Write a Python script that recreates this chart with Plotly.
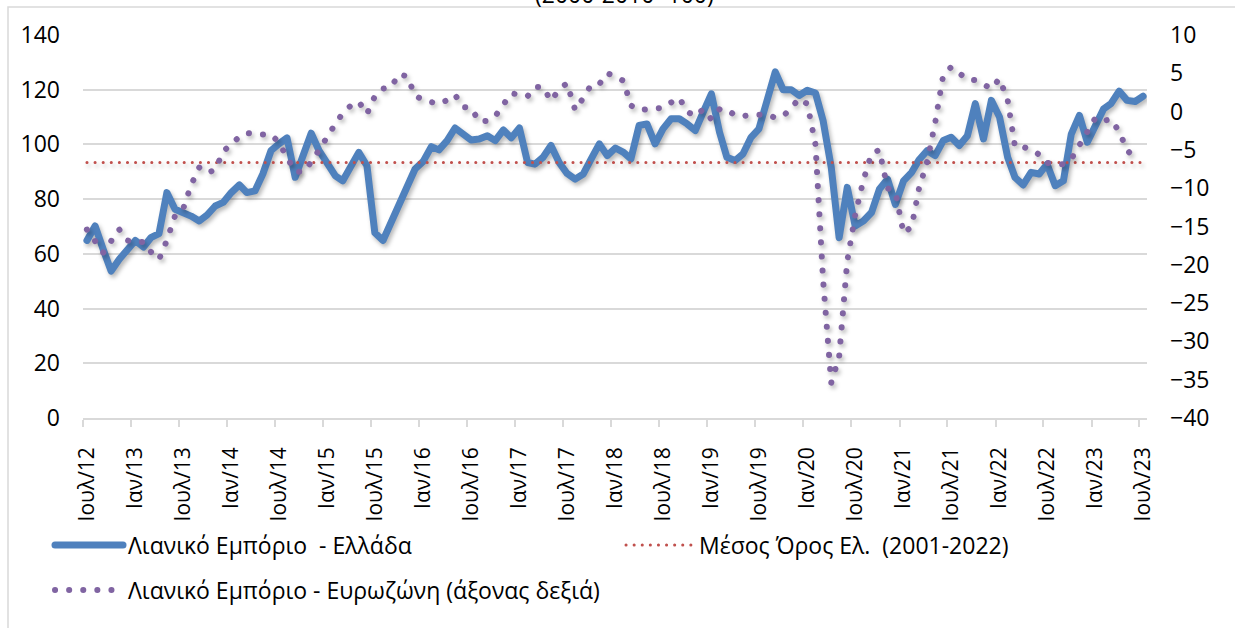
import pandas as pd
import plotly.graph_objects as go

# ---------------- data ----------------
start_month = "2012-07-01"
n_months = 133
months = pd.date_range(start_month, periods=n_months, freq="MS")

greece_retail = [
    64.9, 70.2, 61.6, 53.7, 58.0, 61.6, 64.9, 62.5, 65.9, 67.4,
    82.4, 76.3, 75.4, 73.8, 72.0, 74.2, 77.5, 78.8, 82.4, 85.2,
    82.4, 83.0, 89.2, 97.7, 100.2, 102.4, 88.0, 96.5, 104.1, 97.7,
    92.8, 88.5, 86.7, 91.6, 97.1, 92.2, 67.7, 64.9, 71.4, 78.1,
    84.9, 91.0, 93.8, 99.2, 98.0, 101.4, 106.0, 103.8, 101.6, 102.0,
    103.2, 101.4, 105.3, 102.4, 106.0, 93.4, 92.8, 95.3, 99.6, 93.4,
    89.4, 87.3, 89.2, 94.7, 100.2, 95.9, 98.7, 97.1, 94.7, 106.9,
    107.5, 100.2, 105.7, 109.4, 109.4, 107.5, 105.1, 111.8, 118.5, 104.5,
    95.3, 94.1, 96.5, 102.6, 105.7, 116.1, 126.5, 120.0, 120.0, 117.9,
    119.8, 118.8, 108.7, 91.6, 65.9, 84.3, 70.2, 72.0, 75.1, 83.6,
    87.3, 78.1, 86.7, 89.8, 94.4, 97.7, 95.9, 101.4, 102.6, 99.6,
    103.2, 114.9, 102.0, 116.1, 110.0, 95.3, 87.9, 85.2, 89.8, 89.2,
    92.8, 84.9, 86.7, 103.8, 110.6, 100.8, 106.3, 113.0, 114.9, 119.5,
    116.1, 115.7, 117.6,
]

eurozone_retail = [
    -15.4, -16.9, -18.4, -16.9, -15.4, -16.8, -17.1, -17.0, -18.3, -19.3,
    -16.8, -13.6, -12.8, -9.6, -7.3, -8.0, -7.6, -5.2, -4.2, -3.3,
    -2.8, -3.0, -3.0, -3.0, -4.0, -6.0, -7.8, -7.9, -6.6, -5.0,
    -3.2, -1.6, -0.2, 0.8, 1.3, -0.3, 2.0, 3.0, 3.2, 4.9,
    4.6, 2.1, 1.5, 1.3, 1.0, 1.5, 2.2, 0.6, 0.5, -1.3,
    -1.2, -0.6, 1.0, 2.4, 2.2, 2.0, 3.2, 3.2, 1.4, 2.9,
    3.7, 0.2, 1.8, 3.5, 3.6, 5.0, 4.6, 4.0, 0.8, 0.2,
    0.3, 0.4, 0.5, 1.2, 1.8, 0.0, -0.6, 0.3, -1.0, 0.3,
    0.3, -0.5, -0.6, -0.4, -0.4, -0.4, -0.8, -0.6, 0.5, 1.7,
    1.0, -4.3, -22.0, -35.4, -32.0, -19.5, -13.5, -9.0, -5.5, -5.0,
    -10.0, -10.5, -15.9, -15.0, -10.0, -6.5, -1.5, 4.8, 5.8, 5.0,
    4.2, 4.1, 3.6, 3.0, 4.3, 1.5, -4.6, -4.6, -5.0, -5.6,
    -6.7, -6.8, -6.9, -6.2, -4.3, -2.4, -0.8, -1.2, -1.0, -2.6,
    -5.0, -6.2,
]

greece_mean_2001_2022 = 93.4

tick_labels = [
    "Ιουλ/12", "Ιαν/13", "Ιουλ/13", "Ιαν/14", "Ιουλ/14", "Ιαν/15", "Ιουλ/15",
    "Ιαν/16", "Ιουλ/16", "Ιαν/17", "Ιουλ/17", "Ιαν/18", "Ιουλ/18", "Ιαν/19",
    "Ιουλ/19", "Ιαν/20", "Ιουλ/20", "Ιαν/21", "Ιουλ/21", "Ιαν/22", "Ιουλ/22",
    "Ιαν/23", "Ιουλ/23",
]

name_gr = "Λιανικό Εμπόριο  - Ελλάδα"
name_mean = "Μέσος Όρος Ελ.  (2001-2022)"
name_ez = "Λιανικό Εμπόριο - Ευρωζώνη (άξονας δεξιά)"
subtitle = "(2000-2010=100)"

# ---------------- figure ----------------
W, H = 1235, 628
L, R, T, B = 83, 88, 35, 210
FONT = "Open Sans, Noto Sans, DejaVu Sans, sans-serif"

tick_positions = months[::6]
minor_positions = [d - pd.Timedelta(days=15) for d in months[::6]]

fig = go.Figure()
fig.add_trace(go.Scatter(
    x=months, y=greece_retail, name=name_gr, mode="lines",
    line=dict(color="#4f81bd", width=7), legend="legend",
))
fig.add_trace(go.Scatter(
    x=[months[0], months[-1]], y=[greece_mean_2001_2022] * 2, name=name_mean,
    mode="lines", line=dict(color="#c0504d", width=3, dash="0.1px,8px"),
    legend="legend3",
))
fig.add_trace(go.Scatter(
    x=months[:len(eurozone_retail)], y=eurozone_retail, name=name_ez, mode="lines",
    line=dict(color="#8064a2", width=6, dash="0.1px,14px"), yaxis="y2",
    legend="legend2",
))

legend_common = dict(
    orientation="h", xref="container", yref="container",
    xanchor="left", yanchor="middle",
    font=dict(size=23, color="#000000"), itemwidth=68,
    bgcolor="rgba(0,0,0,0)", borderwidth=0,
)

fig.update_layout(
    width=W, height=H, autosize=False,
    margin=dict(l=L, r=R, t=T, b=B, pad=0, autoexpand=False),
    paper_bgcolor="white", plot_bgcolor="white",
    font=dict(family=FONT, size=23, color="#000000"),
    xaxis=dict(
        type="date",
        range=[months[0] - pd.Timedelta(days=15), months[-1] + pd.Timedelta(days=15)],
        tickmode="array", tickvals=list(tick_positions), ticktext=tick_labels,
        tickangle=-90, ticks="", showgrid=False,
        showline=True, linecolor="#d9d9d9", linewidth=1.5,
        ticklabelstandoff=19,
        minor=dict(tickmode="array", tickvals=minor_positions, ticks="outside",
                   ticklen=7, tickcolor="#d9d9d9", tickwidth=1.5, showgrid=False),
        tickfont=dict(size=21, color="#000000"),
    ),
    yaxis=dict(
        range=[0, 140], dtick=20, showgrid=True, gridcolor="#d9d9d9", gridwidth=1.5,
        zeroline=False, showline=False, ticks="", ticklabelstandoff=22,
        tickfont=dict(size=23, color="#000000"),
    ),
    yaxis2=dict(
        range=[-40, 10], dtick=5, overlaying="y", side="right", showgrid=False,
        zeroline=False, showline=False, ticks="", ticklabelstandoff=22,
        tickfont=dict(size=23, color="#000000"),
    ),
    legend=dict(legend_common, x=50 / W, y=1 - 545 / H),
    legend3=dict(legend_common, x=621 / W, y=1 - 545 / H),
    legend2=dict(legend_common, x=50 / W, y=1 - 590 / H),
    showlegend=True,
)

# outer chart border (extends past the right/bottom edges of the picture)
fig.add_shape(type="rect", xref="paper", yref="paper",
              x0=(8 - L) / (W - L - R), x1=(W + 10 - L) / (W - L - R),
              y0=(H - B - H - 10) / (H - T - B), y1=(H - B - 7) / (H - T - B),
              line=dict(color="#d9d9d9", width=1.5), fillcolor="rgba(0,0,0,0)",
              layer="below")

fig.add_annotation(text=subtitle, xref="paper", yref="paper",
                   x=(624 - L) / (W - L - R), y=(H - B - 12) / (H - T - B),
                   xanchor="center", yanchor="bottom", showarrow=False,
                   font=dict(size=23, color="#000000"))

post = """
var s = document.createElement('style');
s.textContent = 'html,body{margin:0;padding:0}' +
  '.js-line{stroke-linecap:round;stroke-linejoin:round}' +
  '.scatterlayer .trace{filter:drop-shadow(2px 3px 2px rgba(0,0,0,0.28))}';
document.head.appendChild(s);
"""
fig.write_html("out.html", post_script=post, config={"displayModeBar": False})
